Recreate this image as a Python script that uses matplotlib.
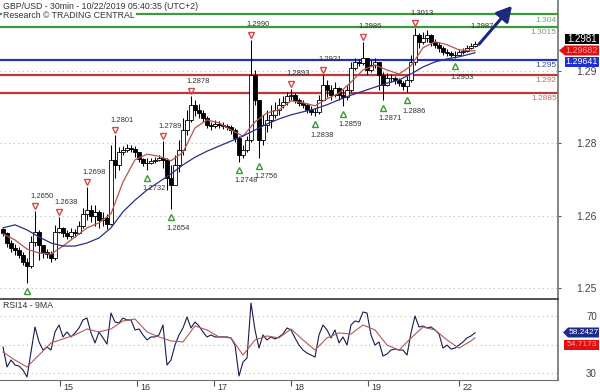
import matplotlib
matplotlib.use("Agg")
import matplotlib.pyplot as plt
from matplotlib.patches import Polygon
from matplotlib.transforms import offset_copy

plt.rcParams['font.family'] = ['Liberation Sans', 'DejaVu Sans']

TITLE = "GBP/USD - 30min - 10/22/2019 05:40:35 (UTC+2)"
SUBTITLE = "Research \u00a9 TRADING CENTRAL"
RSI_TITLE = "RSI14 - 9MA"

# candles (one bar = ~75 min), open is the previous close
FIRST_OPEN = 1.2615
CLOSE = [
    1.2607, 1.2587, 1.2577, 1.2573, 1.2563, 1.2549, 1.2541, 1.2589, 1.2609, 1.2583,
    1.2569, 1.2565, 1.2557, 1.2609, 1.2617, 1.2607, 1.2601, 1.2609, 1.2607, 1.2621,
    1.2645, 1.2652, 1.2641, 1.2649, 1.2633, 1.2637, 1.2625, 1.2752, 1.2742, 1.2767,
    1.2771, 1.2775, 1.2773, 1.2767, 1.2754, 1.2746, 1.2746, 1.2750, 1.2752, 1.2756,
    1.2752, 1.2716, 1.2702, 1.2742, 1.2771, 1.2811, 1.2831, 1.2861, 1.2851, 1.2845,
    1.2835, 1.2821, 1.2819, 1.2823, 1.2821, 1.2819, 1.2817, 1.2811, 1.2795, 1.2762,
    1.2771, 1.2791, 1.2920, 1.2871, 1.2791, 1.2821, 1.2831, 1.2841, 1.2851, 1.2861,
    1.2867, 1.2878, 1.2880, 1.2871, 1.2865, 1.2861, 1.2851, 1.2847, 1.2847, 1.2871,
    1.2900, 1.2890, 1.2880, 1.2894, 1.2880, 1.2876, 1.2890, 1.2934, 1.2946, 1.2944,
    1.2954, 1.2930, 1.2940, 1.2946, 1.2920, 1.2900, 1.2914, 1.2914, 1.2910, 1.2904,
    1.2898, 1.2910, 1.2946, 1.2999, 1.2985, 1.2993, 1.2999, 1.2985, 1.2980, 1.2974,
    1.2966, 1.2964, 1.2960, 1.2960, 1.2966, 1.2968, 1.2974, 1.2978, 1.2981,
]
HIGH = [
    1.2617, 1.2609, 1.2593, 1.2585, 1.2579, 1.2569, 1.2557, 1.2601, 1.2650, 1.2613,
    1.2583, 1.2575, 1.2571, 1.2623, 1.2638, 1.2619, 1.2613, 1.2617, 1.2615, 1.2631,
    1.2656, 1.2698, 1.2662, 1.2662, 1.2652, 1.2649, 1.2645, 1.2781, 1.2801, 1.2777,
    1.2779, 1.2783, 1.2781, 1.2779, 1.2767, 1.2756, 1.2756, 1.2756, 1.2757, 1.2762,
    1.2789, 1.2756, 1.2742, 1.2762, 1.2791, 1.2835, 1.2851, 1.2878, 1.2871, 1.2863,
    1.2851, 1.2839, 1.2827, 1.2831, 1.2829, 1.2827, 1.2823, 1.2821, 1.2815, 1.2799,
    1.2781, 1.2799, 1.2990, 1.2930, 1.2871, 1.2841, 1.2851, 1.2861, 1.2867, 1.2874,
    1.2878, 1.2886, 1.2893, 1.2884, 1.2874, 1.2871, 1.2865, 1.2859, 1.2855, 1.2880,
    1.2921, 1.2910, 1.2900, 1.2906, 1.2896, 1.2892, 1.2900, 1.2946, 1.2954, 1.2952,
    1.2986, 1.2954, 1.2950, 1.2954, 1.2946, 1.2926, 1.2924, 1.2922, 1.2918, 1.2914,
    1.2908, 1.2918, 1.2960, 1.3013, 1.3003, 1.3005, 1.3009, 1.3001, 1.2991, 1.2985,
    1.2978, 1.2972, 1.2968, 1.2968, 1.2972, 1.2974, 1.2980, 1.2984, 1.2987,
]
LOW = [
    1.2601, 1.2579, 1.2569, 1.2563, 1.2557, 1.2543, 1.2508, 1.2537, 1.2581, 1.2553,
    1.2557, 1.2557, 1.2549, 1.2553, 1.2607, 1.2599, 1.2595, 1.2597, 1.2599, 1.2605,
    1.2617, 1.2633, 1.2629, 1.2621, 1.2617, 1.2621, 1.2615, 1.2623, 1.2716, 1.2732,
    1.2762, 1.2767, 1.2767, 1.2757, 1.2748, 1.2740, 1.2732, 1.2744, 1.2746, 1.2750,
    1.2736, 1.2692, 1.2654, 1.2702, 1.2728, 1.2762, 1.2801, 1.2827, 1.2839, 1.2835,
    1.2827, 1.2815, 1.2811, 1.2815, 1.2815, 1.2813, 1.2811, 1.2803, 1.2787, 1.2748,
    1.2756, 1.2767, 1.2787, 1.2861, 1.2756, 1.2781, 1.2807, 1.2815, 1.2835, 1.2841,
    1.2855, 1.2861, 1.2871, 1.2865, 1.2859, 1.2855, 1.2845, 1.2841, 1.2838, 1.2843,
    1.2871, 1.2876, 1.2871, 1.2876, 1.2871, 1.2859, 1.2871, 1.2886, 1.2930, 1.2938,
    1.2940, 1.2920, 1.2926, 1.2934, 1.2890, 1.2871, 1.2898, 1.2906, 1.2902, 1.2898,
    1.2890, 1.2886, 1.2906, 1.2940, 1.2974, 1.2981, 1.2985, 1.2978, 1.2974, 1.2966,
    1.2960, 1.2958, 1.2956, 1.2953, 1.2958, 1.2962, 1.2966, 1.2972, 1.2976,
]

# moving averages, read every third bar
MA_IDX = list(range(0, 118, 3)) + [118]
RED_MA = [
    1.2605, 1.2593, 1.2575, 1.2567, 1.2565, 1.2581, 1.2599, 1.2617, 1.2627, 1.2645,
    1.2708, 1.2752, 1.2763, 1.2759, 1.2750, 1.2767, 1.2815, 1.2831, 1.2825, 1.2811,
    1.2799, 1.2827, 1.2845, 1.2851, 1.2869, 1.2865, 1.2859, 1.2873, 1.2884, 1.2906,
    1.2930, 1.2940, 1.2930, 1.2922, 1.2938, 1.2974, 1.2986, 1.2980, 1.2970, 1.2968,
    1.29682,
]
BLUE_MA = [
    1.2617, 1.2623, 1.2613, 1.2599, 1.2587, 1.2581, 1.2581, 1.2587, 1.2597, 1.2617,
    1.2649, 1.2672, 1.2692, 1.2708, 1.2724, 1.2742, 1.2757, 1.2769, 1.2779, 1.2789,
    1.2799, 1.2811, 1.2823, 1.2833, 1.2841, 1.2847, 1.2853, 1.2861, 1.2871, 1.2880,
    1.2888, 1.2896, 1.2904, 1.2910, 1.2922, 1.2936, 1.2946, 1.2952, 1.2956, 1.2962,
    1.29641,
]

RSI = [
    48.2, 34.2, 39.1, 35.6, 34.9, 32.1, 27.2, 44.7, 62.3, 51.8,
    46.1, 48.2, 46.1, 58.8, 63.7, 55.3, 58.8, 55.3, 58.1, 61.6,
    67.2, 68.6, 58.1, 51.1, 58.8, 54.6, 50.3, 72.1, 65.8, 65.1,
    68.6, 67.2, 67.2, 60.2, 60.9, 56.7, 53.2, 55.3, 55.3, 56.7,
    63.7, 35.6, 39.1, 49.6, 56.7, 61.6, 69.3, 61.6, 65.8, 63.0,
    58.8, 55.3, 56.7, 55.3, 55.3, 55.3, 55.3, 54.6, 49.6, 27.9,
    37.7, 40.5, 79.1, 60.2, 47.5, 56.7, 53.2, 55.3, 53.9, 55.3,
    57.4, 61.6, 60.2, 54.6, 49.6, 46.1, 44.0, 42.6, 41.2, 56.7,
    63.7, 60.2, 54.6, 60.2, 51.1, 55.3, 49.6, 63.7, 66.5, 65.8,
    72.8, 72.1, 56.7, 49.6, 51.8, 41.9, 43.3, 46.1, 46.8, 46.1,
    46.1, 42.6, 58.1, 70.0, 62.3, 63.0, 61.6, 62.3, 60.2, 57.4,
    47.5, 49.6, 46.8, 47.5, 49.6, 51.8, 54.6, 56.0, 58.2427,
]
RSI_MA = [
    44.7, 39.1, 34.2, 42.6, 51.1, 53.9, 56.7, 60.9, 58.8, 60.9,
    66.5, 67.9, 58.8, 55.3, 52.5, 51.8, 63.0, 60.2, 55.3, 54.6,
    42.6, 53.2, 56.0, 54.6, 60.9, 53.2, 46.1, 54.6, 58.1, 57.4,
    63.7, 60.2, 49.6, 46.1, 54.6, 62.3, 60.2, 53.2, 47.5, 52.5,
    54.7173,
]

DAY_LABELS = ["15", "16", "17", "18", "19", "22"]
DAY_POS = [14.25, 33.5, 52.75, 72.0, 91.25, 114.0]

LEVELS = [1.304, 1.3015, 1.295, 1.292, 1.2885]
LEVEL_COLORS = ["#3c9a3c", "#3c9a3c", "#2233bb", "#b83a3a", "#b83a3a"]
LEVEL_TEXT = ["#6aaa6a", "#6aaa6a", "#3c48a0", "#c26a6a", "#c26a6a"]

HIGH_MARKS = [8, 14, 21, 28, 40, 47, 62, 72, 80, 90, 103]
LOW_MARKS = [6, 36, 42, 59, 64, 78, 85, 95, 101, 113]
LOW_LABELLED = [36, 42, 59, 64, 78, 85, 95, 101, 113]   # label of bar 6 is off-chart
LAST_HIGH_LABEL = 118
ARROW_END = (127.25, 1.3057)

GRID_PRICES = [1.29286, 1.27853, 1.26405, 1.24978]
GRID_LABELS = ["1.29", "1.28", "1.26", "1.25"]

W, H = 600, 392
fig = plt.figure(figsize=(W / 100, H / 100), dpi=100)
ax = fig.add_axes([0, 1 - 299 / H, 558 / W, 299 / H])
rax = fig.add_axes([0, 1 - 380 / H, 558 / W, 81 / H], sharex=ax)

n = len(CLOSE)
idx = list(range(n))
opens = [FIRST_OPEN] + CLOSE[:-1]

# candles
ax.vlines(idx, LOW, HIGH, color="black", lw=0.75, zorder=3)
bottoms = [min(o, c) for o, c in zip(opens, CLOSE)]
heights = [abs(c - o) for o, c in zip(opens, CLOSE)]
colors = ["white" if c >= o else "black" for o, c in zip(opens, CLOSE)]
ax.bar(idx, heights, bottom=bottoms, width=0.8, color=colors,
       edgecolor="black", linewidth=0.6, zorder=4)

ax.plot(MA_IDX, RED_MA, color="#b85450", lw=0.9, zorder=5)
ax.plot(MA_IDX, BLUE_MA, color="#2b2f8a", lw=0.9, zorder=5)

for p in GRID_PRICES:
    ax.axhline(p, color="#bbbbbb", lw=0.8, ls=(0, (1, 3)), zorder=1)

for lvl, c, tc in zip(LEVELS, LEVEL_COLORS, LEVEL_TEXT):
    ax.axhline(lvl, color=c, lw=1.6, zorder=2)
    ax.annotate(f"{lvl:g}", xy=(1, lvl), xycoords=("axes fraction", "data"),
                xytext=(-1, -1.5), textcoords="offset points", ha="right",
                va="top", fontsize=6, color=tc, zorder=6)

# swing markers
hi_tr = offset_copy(ax.transData, fig=fig, y=3.6, units="points")
lo_tr = offset_copy(ax.transData, fig=fig, y=-5.8, units="points")
ax.plot(HIGH_MARKS, [HIGH[i] for i in HIGH_MARKS], "v", mfc="none",
        mec="#d04a4a", ms=5, mew=1, transform=hi_tr, zorder=6)
ax.plot(LOW_MARKS, [LOW[i] for i in LOW_MARKS], "^", mfc="none",
        mec="#3a9a3a", ms=5, mew=1, transform=lo_tr, zorder=6)
for i in HIGH_MARKS + [LAST_HIGH_LABEL]:
    ax.annotate(f"{HIGH[i]:.4f}", xy=(i, HIGH[i]), xytext=(-3, 10.8),
                textcoords="offset points", ha="left", va="center",
                fontsize=5.5, color="#333333", zorder=6)
for i in LOW_LABELLED:
    ax.annotate(f"{LOW[i]:.4f}", xy=(i, LOW[i]), xytext=(-3, -13.7),
                textcoords="offset points", ha="left", va="center",
                fontsize=5.5, color="#333333", zorder=6)

ax.annotate("", xy=ARROW_END, xytext=(n, CLOSE[-1]),
            arrowprops=dict(arrowstyle="-|>,head_length=0.9,head_width=0.5",
                            color="#1b2a80", lw=2.2, mutation_scale=10,
                            shrinkA=0, shrinkB=0), zorder=7)

ax.set_xlim(-0.75, 138.75)
ax.set_ylim(1.24760, 1.30687)
for s in ["top", "left", "bottom"]:
    ax.spines[s].set_visible(False)
ax.spines["right"].set_color("#707070")
ax.spines["right"].set_linewidth(1.2)
ax.yaxis.tick_right()
ax.set_yticks(GRID_PRICES, GRID_LABELS)
ax.tick_params(axis="y", length=2.5, width=0.8, color="#555555",
               labelsize=7.5, labelcolor="#444444", pad=25.5)
for lab in ax.get_yticklabels():
    lab.set_horizontalalignment("right")
ax.tick_params(axis="x", bottom=False, labelbottom=False)

# RSI panel
rax.plot(idx, RSI, color="#1a1a50", lw=0.8, zorder=3)
rax.plot(MA_IDX, RSI_MA, color="#b05a5a", lw=0.8, zorder=4)
for v in [70, 50, 30]:
    rax.axhline(v, color="#bbbbbb", lw=0.8, ls=(0, (1, 3)), zorder=1)
rax.set_ylim(25.09, 81.93)
rax.spines["left"].set_visible(False)
rax.spines["top"].set_color("#333333")
rax.spines["top"].set_linewidth(1.2)
rax.spines["right"].set_color("#707070")
rax.spines["right"].set_linewidth(1.2)
rax.spines["bottom"].set_color("#707070")
rax.yaxis.tick_right()
rax.set_yticks([70, 30], ["70", "30"])
rax.tick_params(axis="y", length=0, labelsize=7, labelcolor="#444444", pad=28)
for lab in rax.get_yticklabels():
    lab.set_horizontalalignment("right")
rax.set_xticks(DAY_POS)
rax.set_xticklabels([])
rax.tick_params(axis="x", length=4, width=0.8, color="#555555", direction="out")
for pos, lab in zip(DAY_POS, DAY_LABELS):
    rax.annotate(lab, xy=(pos, 0), xycoords=("data", "axes fraction"),
                 xytext=(2.5, -2.5), textcoords="offset points", ha="left",
                 va="top", fontsize=6.5, color="#333333", annotation_clip=False)

# texts
fig.text(3 / W, 1 - 6.5 / H, TITLE, fontsize=6.3, color="#333333", va="center")
fig.text(3 / W, 1 - 16 / H, SUBTITLE, fontsize=6.3, color="#333333", va="center",
         bbox=dict(fc="white", ec="none", pad=0.6))
fig.text(3 / W, 1 - 305 / H, RSI_TITLE, fontsize=6.3, color="#333333", va="center")


def tag(x0, y0, x1, y1, text, fc, tc, tip=None, fs=6.8):
    pts = [(x0, y0), (x1, y0), (x1, y1), (x0, y1)]
    if tip is not None:
        pts.append((tip, (y0 + y1) / 2))
    fig.patches.append(Polygon([(x / W, 1 - y / H) for x, y in pts], closed=True,
                               transform=fig.transFigure, fc=fc, ec="none"))
    fig.text((x0 + x1) / 2 / W, 1 - (y0 + y1) / 2 / H, text, color=tc,
             fontsize=fs, ha="center", va="center")


tag(565, 34, 599, 44, f"{CLOSE[-1]:.4f}", "black", "white", fs=7)
tag(565, 45.5, 599, 55.5, f"{RED_MA[-1]:.5f}", "#e01010", "#ff9c9c", tip=559, fs=6.4)
tag(565, 57, 599, 67, f"{BLUE_MA[-1]:.5f}", "#1f2fd0", "white", fs=6.4)
tag(568, 327.5, 599, 337.5, f"{RSI[-1]:.4f}", "#1c2a8a", "white", tip=563, fs=6)
tag(564, 340, 599, 350, f"{RSI_MA[-1]:.4f}", "#e01010", "#ff9c9c", fs=6)

fig.savefig("out.png", dpi=100, facecolor="white")
